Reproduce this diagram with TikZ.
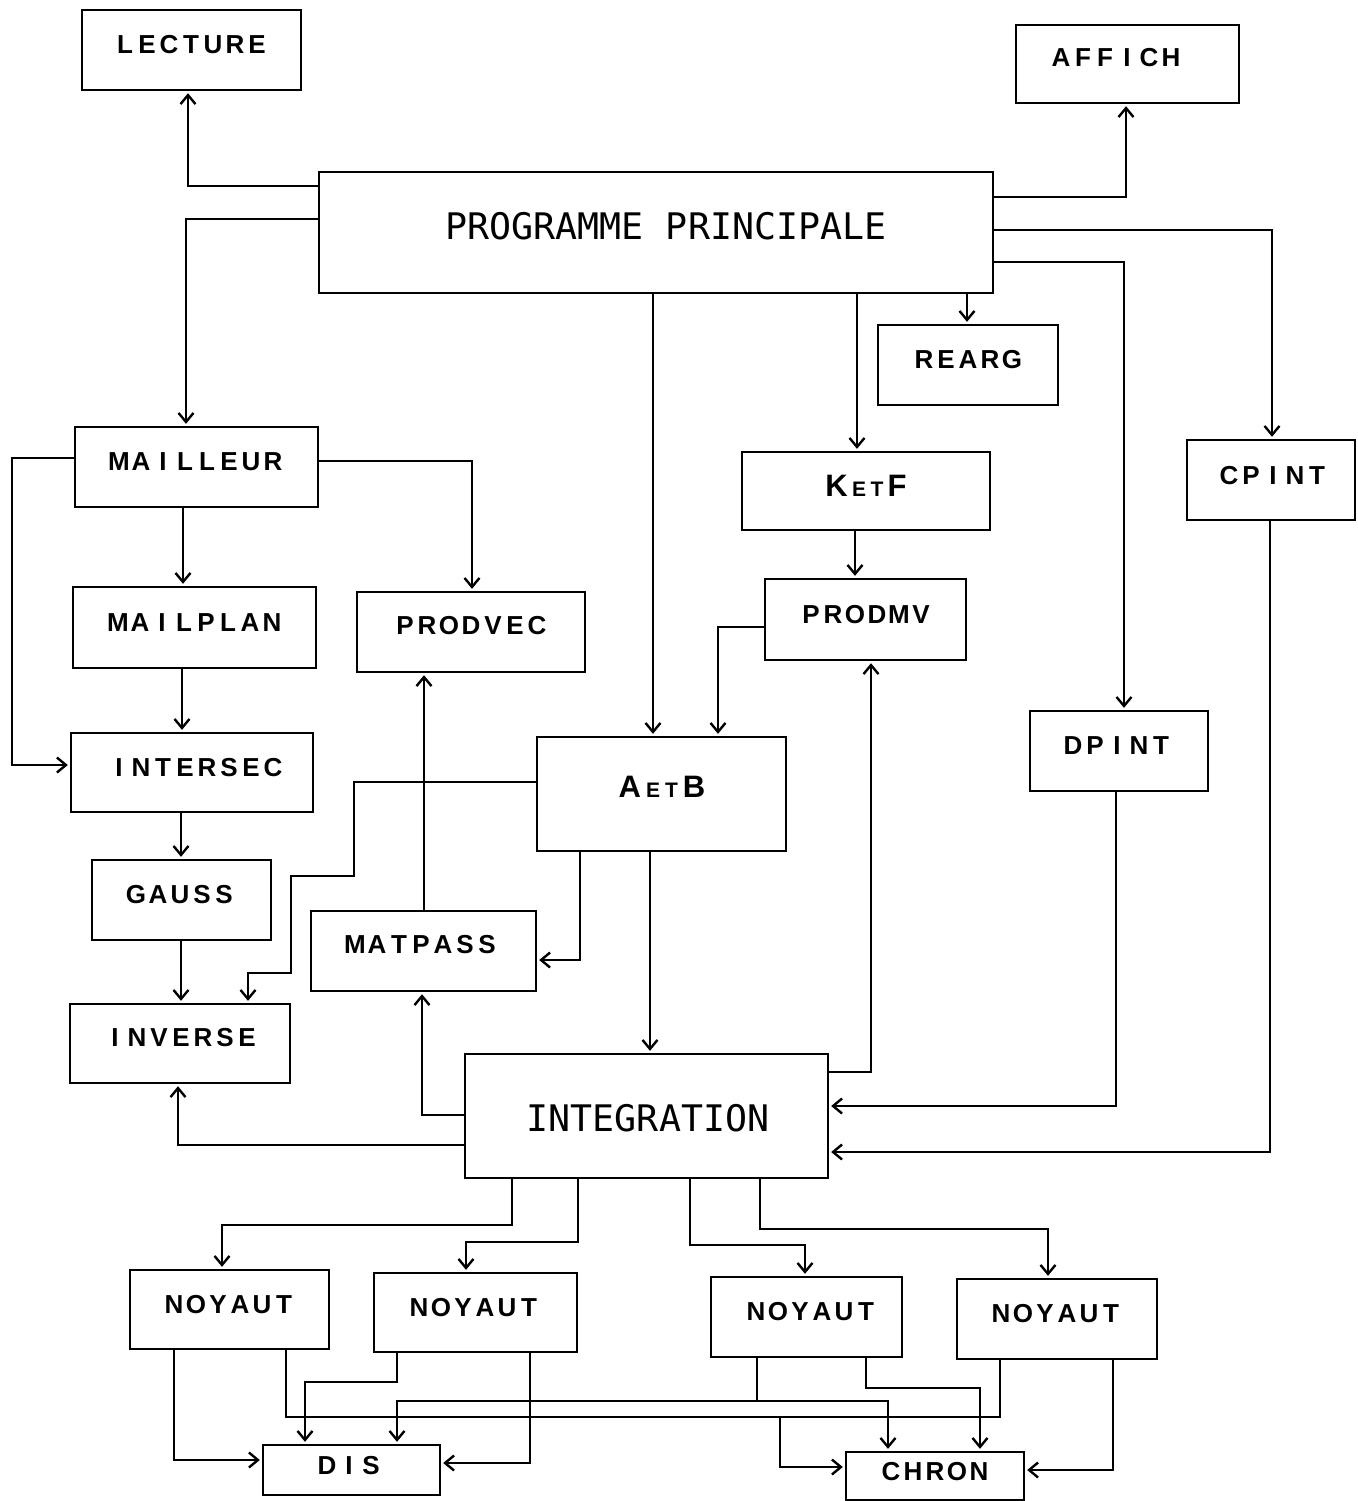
\documentclass[tikz,border=0pt]{standalone}
\usepackage{fontspec}
\setmainfont{Liberation Sans}
\newfontfamily\plotmono{DejaVu Sans Mono}
\usetikzlibrary{arrows.meta}

\newlength\cellw
\setlength\cellw{11pt}
\def\monostr#1{\monoloop#1\relax}
\def\monoloop#1{\ifx#1\relax\else\makebox[\cellw][c]{#1}\expandafter\monoloop\fi}

\tikzset{
  boxst/.style={draw, line width=1.2pt, rectangle, inner sep=0pt},
  lbl/.style={inner sep=0pt, font=\fontsize{13}{15}\selectfont\bfseries},
  big/.style={inner sep=0pt, font=\plotmono\fontsize{18.3}{20}\selectfont},
  conn/.style={line width=1.2pt},
  arr/.style={conn, -{Straight Barb[length=4.5pt,width=7.5pt,line width=1.2pt]}, shorten >=1pt},
}

\newcommand\bx[5]{\node[boxst, minimum width={(#4-#2)*0.5pt}, minimum height={(#5-#3)*0.5pt}] (#1) at ({(#2+#4)/2},{(#3+#5)/2}) {};}

\begin{document}
\begin{tikzpicture}[x=0.5pt,y=-0.5pt]
\useasboundingbox (0,0) rectangle (1357,1501);

% boxes
\bx{LECT}{82}{10}{301}{90}
\bx{AFF}{1016}{25}{1239}{103}
\bx{PP}{319}{172}{993}{293}
\bx{REARG}{878}{325}{1058}{405}
\bx{MAIL}{75}{427}{318}{507}
\bx{KETF}{742}{452}{990}{530}
\bx{CPINT}{1187}{440}{1355}{520}
\bx{MPLAN}{73}{587}{316}{668}
\bx{PVEC}{357}{592}{585}{672}
\bx{PMV}{765}{579}{966}{660}
\bx{INTER}{71}{733}{313}{812}
\bx{AETB}{537}{737}{786}{851}
\bx{DPINT}{1030}{711}{1208}{791}
\bx{GAUSS}{92}{860}{271}{940}
\bx{MATP}{311}{911}{536}{991}
\bx{INV}{70}{1004}{290}{1083}
\bx{INTEG}{465}{1054}{828}{1178}
\bx{NA}{130}{1270}{329}{1349}
\bx{NB}{374}{1273}{577}{1352}
\bx{NC}{711}{1277}{902}{1357}
\bx{ND}{957}{1279}{1157}{1359}
\bx{DIS}{263}{1445}{440}{1495}
\bx{CHRON}{846}{1452}{1024}{1500}

% labels
\node[lbl] (LECT-t) at (191,45) {\monostr{LECTURE}};
\node[lbl] (AFF-t) at (1116,58) {\monostr{AFFICH}};
\node[big] (PP-t) at (666,226) {PROGRAMME PRINCIPALE};
\node[lbl] (REARG-t) at (968,360) {\monostr{REARG}};
\node[lbl] (MAIL-t) at (196,462) {\monostr{MAILLEUR}};
\node[lbl, font=\fontsize{15.5}{16}\selectfont\bfseries] (KETF-t) at (866,486) {K\kern2.2pt{\fontsize{10.5}{10}\selectfont E\kern2.2pt T}\kern2.2pt F};
\node[lbl] (CPINT-t) at (1273,476) {\monostr{CPINT}};
\node[lbl] (MPLAN-t) at (195,623) {\monostr{MAILPLAN}};
\node[lbl] (PVEC-t) at (471,626) {\monostr{PRODVEC}};
\node[lbl] (PMV-t) at (866,615) {\monostr{PRODMV}};
\node[lbl] (INTER-t) at (196,768) {\monostr{INTERSEC}};
\node[lbl, font=\fontsize{15.5}{16}\selectfont\bfseries] (AETB-t) at (662,787) {A\kern2.5pt{\fontsize{10.5}{10}\selectfont E\kern2.5pt T}\kern2.5pt B};
\node[lbl] (DPINT-t) at (1117,746) {\monostr{DPINT}};
\node[lbl] (GAUSS-t) at (180,895) {\monostr{GAUSS}};
\node[lbl] (MATP-t) at (421,945) {\monostr{MATPASS}};
\node[lbl] (INV-t) at (181,1038) {\monostr{INVERSE}};
\node[big] (INTEG-t) at (648,1118) {INTEGRATION};
\node[lbl] (NA-t) at (229,1305) {\monostr{NOYAUT}};
\node[lbl] (NB-t) at (474,1308) {\monostr{NOYAUT}};
\node[lbl] (NC-t) at (811,1312) {\monostr{NOYAUT}};
\node[lbl] (ND-t) at (1056,1314) {\monostr{NOYAUT}};
\node[lbl] (DIS-t) at (349,1466) {\monostr{DIS}};
\node[lbl] (CHRON-t) at (935,1472) {\monostr{CHRON}};

% connectors from PROGRAMME PRINCIPALE
\draw[arr] (PP.west |- 0,186) -| (LECT.south -| 188,0);
\draw[arr] (PP.west |- 0,219) -| (MAIL.north -| 186,0);
\draw[arr] (PP.east |- 0,197) -| (AFF.south -| 1126,0);
\draw[arr] (PP.east |- 0,230) -| (CPINT.north -| 1272,0);
\draw[arr] (PP.east |- 0,262) -| (DPINT.north -| 1124,0);
\draw[arr] (PP.south -| 967,0) -- (REARG.north -| 967,0);
\draw[arr] (PP.south -| 857,0) -- (KETF.north -| 857,0);
\draw[arr] (PP.south -| 653,0) -- (AETB.north -| 653,0);

% MAILLEUR chain
\draw[arr] (MAIL.west |- 0,458) -| (12,612) |- (INTER.west |- 0,765);
\draw[arr] (MAIL.east |- 0,461) -| (PVEC.north -| 472,0);
\draw[arr] (MAIL.south -| 183,0) -- (MPLAN.north -| 183,0);
\draw[arr] (MPLAN.south -| 182,0) -- (INTER.north -| 182,0);
\draw[arr] (INTER.south -| 181,0) -- (GAUSS.north -| 181,0);
\draw[arr] (GAUSS.south -| 181,0) -- (INV.north -| 181,0);

% KetF / PRODMV / AetB
\draw[arr] (KETF.south -| 855,0) -- (PMV.north -| 855,0);
\draw[arr] (PMV.west |- 0,627) -| (AETB.north -| 718,0);
\draw[arr] (AETB.west |- 0,782) -| (354,876) -| (291,973) -| (INV.north -| 248,0);
\draw[arr] (MATP.north -| 424,0) -- (PVEC.south -| 424,0);
\draw[arr] (AETB.south -| 580,0) |- (MATP.east |- 0,960);
\draw[arr] (AETB.south -| 650,0) -- (INTEG.north -| 650,0);

% INTEGRATION
\draw[arr] (INTEG.west |- 0,1115) -| (MATP.south -| 422,0);
\draw[arr] (INTEG.west |- 0,1145) -| (INV.south -| 178,0);
\draw[arr] (INTEG.east |- 0,1072) -| (PMV.south -| 871,0);
\draw[arr] (DPINT.south -| 1116,0) |- (INTEG.east |- 0,1106);
\draw[arr] (CPINT.south -| 1270,0) |- (INTEG.east |- 0,1152);
\draw[arr] (INTEG.south -| 512,0) -- (512,1225) -| (NA.north -| 222,0);
\draw[arr] (INTEG.south -| 578,0) -- (578,1242) -| (NB.north -| 466,0);
\draw[arr] (INTEG.south -| 690,0) -- (690,1245) -| (NC.north -| 805,0);
\draw[arr] (INTEG.south -| 760,0) -- (760,1229) -| (ND.north -| 1048,0);

% NOYAUT -> DIS / CHRON
\coordinate (jlow) at (780,1417);
\coordinate (jup) at (757,1401);
\draw[arr] (NA.south -| 174,0) |- (DIS.west |- 0,1460);
\draw[arr] (NA.south -| 286,0) |- (jlow) |- (CHRON.west |- 0,1467);
\draw[conn] (ND.south -| 1000,0) |- (jlow);
\draw[arr] (NB.south -| 397,0) |- (305,1382) -- (DIS.north -| 305,0);
\draw[arr] (NB.south -| 530,0) |- (DIS.east |- 0,1463);
\draw[conn] (NC.south -| 757,0) -- (jup);
\draw[arr] (jup) -| (DIS.north -| 397,0);
\draw[arr] (jup) -| (CHRON.north -| 888,0);
\draw[arr] (NC.south -| 866,0) |- (980,1388) -- (CHRON.north -| 980,0);
\draw[arr] (ND.south -| 1113,0) |- (CHRON.east |- 0,1470);
\end{tikzpicture}
\end{document}
